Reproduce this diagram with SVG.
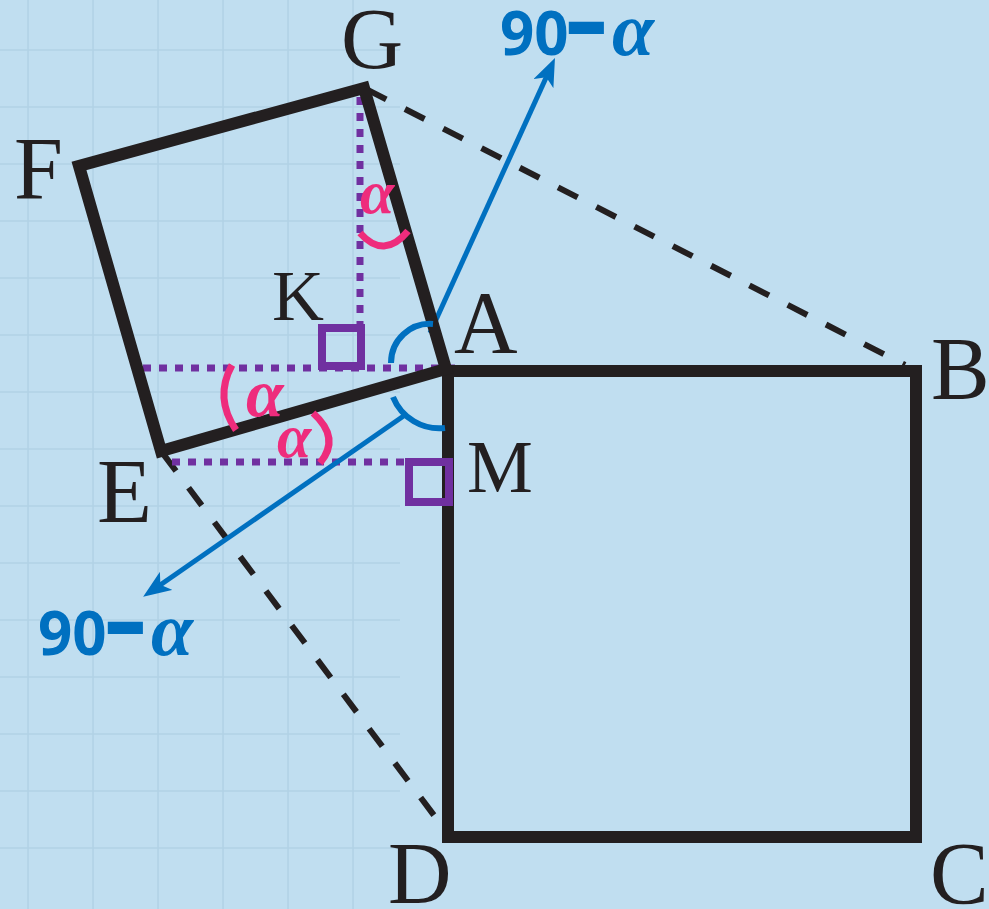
<svg xmlns="http://www.w3.org/2000/svg" width="989" height="909" viewBox="0 0 989 909">
<style>
.bg{fill:#C0DEF0}
.grid line{stroke:#B2D2E6;stroke-width:1.6}
.edge{fill:none;stroke:#231F20;stroke-width:12;stroke-linejoin:miter}
.dash{fill:none;stroke:#231F20;stroke-width:6;stroke-dasharray:22 21}
.dot{fill:none;stroke:#7030A0;stroke-width:7;stroke-dasharray:8 8}
.rbox{fill:none;stroke:#7030A0;stroke-width:8}
.barc{fill:none;stroke:#0070C0;stroke-width:6}
.arrow{fill:none;stroke:#0070C0;stroke-width:5}
.parc{fill:none;stroke:#EE2C7C;stroke-width:7;stroke-linecap:butt}
.lbl{font-family:"Liberation Serif","Times New Roman",serif;fill:#231F20}
.pa{font-family:"Liberation Serif","Times New Roman",serif;font-style:italic;font-weight:bold;fill:#EE2C7C}
.bl{font-family:"Open Sans","Noto Sans",sans-serif;font-weight:bold;fill:#0070C0}
.ba{font-family:"Liberation Serif","Times New Roman",serif;font-style:italic;font-weight:bold;fill:#0070C0}
</style>
<defs>
<marker id="ah" markerUnits="userSpaceOnUse" viewBox="0 0 28 22" refX="16" refY="11" markerWidth="28" markerHeight="22" orient="auto">
<path d="M0 0 L28 11 L0 22 L7 11 Z" fill="#0070C0"/>
</marker>
</defs>
<rect class="bg" x="0" y="0" width="989" height="909"/>
<g class="grid">
<line x1="28" y1="0" x2="28" y2="909"/>
<line x1="93" y1="0" x2="93" y2="909"/>
<line x1="158" y1="0" x2="158" y2="909"/>
<line x1="223" y1="0" x2="223" y2="909"/>
<line x1="288" y1="0" x2="288" y2="909"/>
<line x1="353" y1="0" x2="353" y2="909"/>
<line x1="0" y1="50" x2="400" y2="50"/>
<line x1="0" y1="107" x2="400" y2="107"/>
<line x1="0" y1="164" x2="400" y2="164"/>
<line x1="0" y1="221" x2="400" y2="221"/>
<line x1="0" y1="278" x2="400" y2="278"/>
<line x1="0" y1="335" x2="400" y2="335"/>
<line x1="0" y1="392" x2="400" y2="392"/>
<line x1="0" y1="449" x2="400" y2="449"/>
<line x1="0" y1="506" x2="400" y2="506"/>
<line x1="0" y1="563" x2="400" y2="563"/>
<line x1="0" y1="620" x2="400" y2="620"/>
<line x1="0" y1="677" x2="400" y2="677"/>
<line x1="0" y1="734" x2="400" y2="734"/>
<line x1="0" y1="791" x2="400" y2="791"/>
<line x1="0" y1="848" x2="400" y2="848"/>
</g>

<g id="connectors">
<line class="dash" x1="364" y1="88" x2="905" y2="365" stroke-dashoffset="-3"/>
<line class="dash" x1="161" y1="451" x2="445" y2="830" stroke-dashoffset="-3"/>
<line class="dot" x1="360" y1="97" x2="360" y2="326"/>
<line class="dot" x1="143" y1="368" x2="455" y2="368"/>
<line class="dot" x1="172" y1="462" x2="410" y2="462"/>
<line class="arrow" x1="430" y1="333" x2="550" y2="69" marker-end="url(#ah)"/>
<line class="arrow" x1="405" y1="415" x2="153" y2="590" marker-end="url(#ah)"/>
</g>

<g id="squareABCD">
<path class="edge" d="M448 371 H916 V837 H448 Z"/>
</g>
<g id="squareAGFE">
<path class="edge" d="M446 369 L364 88 L79 166 L161 451 Z"/>
</g>

<g id="rightAngleK"><rect class="rbox" x="322" y="328" width="39" height="38"/></g>
<g id="rightAngleM"><rect class="rbox" x="409" y="462" width="40" height="40"/></g>

<g id="angleArcs">
<path class="barc" d="M391 363 A39 39 0 0 1 433 324"/>
<path class="barc" d="M393 397 A50 50 0 0 0 445 428"/>
<path class="parc" d="M360 233 Q384 260 408 231"/>
<path class="parc" d="M232 365 Q214 398 236 430"/>
<path class="parc" d="M313 413 Q341 438 320 463"/>
</g>

<g id="labels">
<text class="lbl" x="341" y="68" font-size="86">G</text>
<text class="lbl" x="14" y="198" font-size="88">F</text>
<text class="lbl" x="272" y="320" font-size="72">K</text>
<text class="lbl" x="454" y="352" font-size="88">A</text>
<text class="lbl" x="931" y="398" font-size="88">B</text>
<text class="lbl" x="467" y="492" font-size="74">M</text>
<text class="lbl" x="97" y="522" font-size="90">E</text>
<text class="lbl" x="388" y="903" font-size="88">D</text>
<text class="lbl" x="930" y="903" font-size="88">C</text>
</g>

<g id="pinkAlphas">
<text class="pa" x="360" y="213" font-size="62">α</text>
<text class="pa" x="246" y="416" font-size="68">α</text>
<text class="pa" x="277" y="457" font-size="62">α</text>
</g>

<g id="blueLabels">
<text class="bl" font-size="60"><tspan x="500" y="55">90</tspan><tspan x="569" y="49" stroke="#0070C0" stroke-width="6">−</tspan><tspan class="ba" x="612" y="55" font-size="76">α</tspan></text>
<text class="bl" font-size="60"><tspan x="38" y="655">90</tspan><tspan x="108" y="649" stroke="#0070C0" stroke-width="6">−</tspan><tspan class="ba" x="151" y="655" font-size="76">α</tspan></text>
</g>
</svg>
